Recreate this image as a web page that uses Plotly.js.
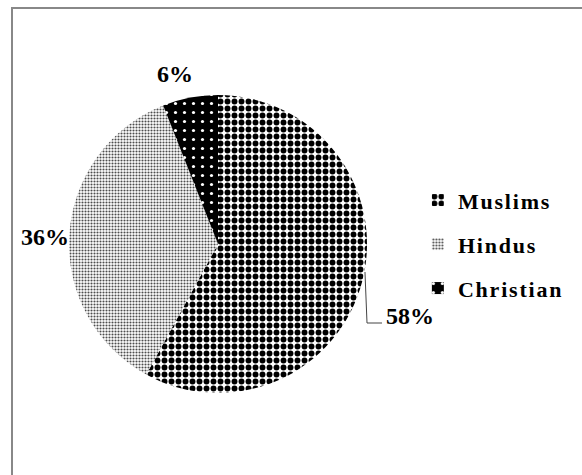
<!DOCTYPE html>
<html><head><meta charset="utf-8">
<script src="https://cdn.plot.ly/plotly-3.0.1.min.js"></script>
<style>
body{margin:0;padding:0;background:#fff;}
#wrap{position:relative;width:582px;height:475px;overflow:hidden;}
#frame{position:absolute;left:11px;top:7px;width:600px;height:500px;border:2px solid #888;box-sizing:border-box;pointer-events:none;}
#chart{position:absolute;left:0;top:0;width:582px;height:475px;}
.legendtext{letter-spacing:1.8px;}
</style>
</head><body>
<div id="wrap"><div id="chart"></div><div id="frame"></div></div>
<script>
var categories = ["Muslims", "Hindus", "Christian"];
var shares = [58, 36, 6];
// label anchor positions (paper fractions) for the percentage labels
var labelX = [0.7045, 0.0773, 0.3007];
var labelY = [0.3347, 0.5011, 0.8442];

var total = shares.reduce(function(a, b){ return a + b; }, 0);

var trace = {
  type: "pie",
  labels: categories,
  values: shares,
  sort: false,
  direction: "clockwise",
  rotation: 0,
  textinfo: "none",
  marker: {
    colors: ["#ffffff", "#ffffff", "#000000"],
    line: {color: "#000", width: 0},
    pattern: {
      shape: [".", ".", "."],
      bgcolor: ["#ffffff", "#ffffff", "#000000"],
      fgcolor: ["#000000", "#4d4d4d", "#ffffff"],
      size: [7, 3, 9],
      solidity: [0.55, 0.38, 0.1]
    }
  },
  domain: {x: [0.1186, 0.6306], y: [0.1726, 0.8]},
  hoverinfo: "none"
};

var annotations = categories.map(function(c, i){
  return {
    xref: "paper", yref: "paper",
    x: labelX[i], y: labelY[i],
    xanchor: "center", yanchor: "middle",
    showarrow: false,
    text: Math.round(shares[i] / total * 100) + "%",
    font: {family: "Liberation Serif", size: 24, color: "#000", weight: "bold"}
  };
});

var layout = {
  width: 582, height: 475,
  margin: {l: 0, r: 0, t: 0, b: 0},
  paper_bgcolor: "#fff",
  showlegend: true,
  legend: {
    x: 0.718, y: 0.486, xanchor: "left", yanchor: "middle",
    font: {family: "Liberation Serif", size: 22, color: "#000", weight: "bold"},
    itemwidth: 30
  },
  annotations: annotations,
  shapes: [{
    type: "path", xref: "paper", yref: "paper",
    path: "M0.6271,0.4274 L0.6306,0.32 L0.6564,0.32",
    line: {color: "#444", width: 1}
  }]
};

Plotly.newPlot("chart", [trace], layout, {displayModeBar: false, staticPlot: true}).then(function(gd){
  // spread legend entries to match the reference's wider row spacing
  var sb = gd.querySelector(".legend .scrollbox");
  if (sb) sb.removeAttribute("clip-path");
  var items = gd.querySelectorAll(".legend .traces");
  if (items.length === 3) {
    var m = /translate\(([^,]+),\s*([^)]+)\)/.exec(items[1].getAttribute("transform"));
    if (m) {
      var x0 = parseFloat(m[1]), y1 = parseFloat(m[2]);
      var gap = 44;
      for (var i = 0; i < items.length; i++) {
        items[i].setAttribute("transform", "translate(" + x0 + "," + (y1 + (i - 1) * gap) + ")");
      }
    }
  }
});
</script>
</body></html>
